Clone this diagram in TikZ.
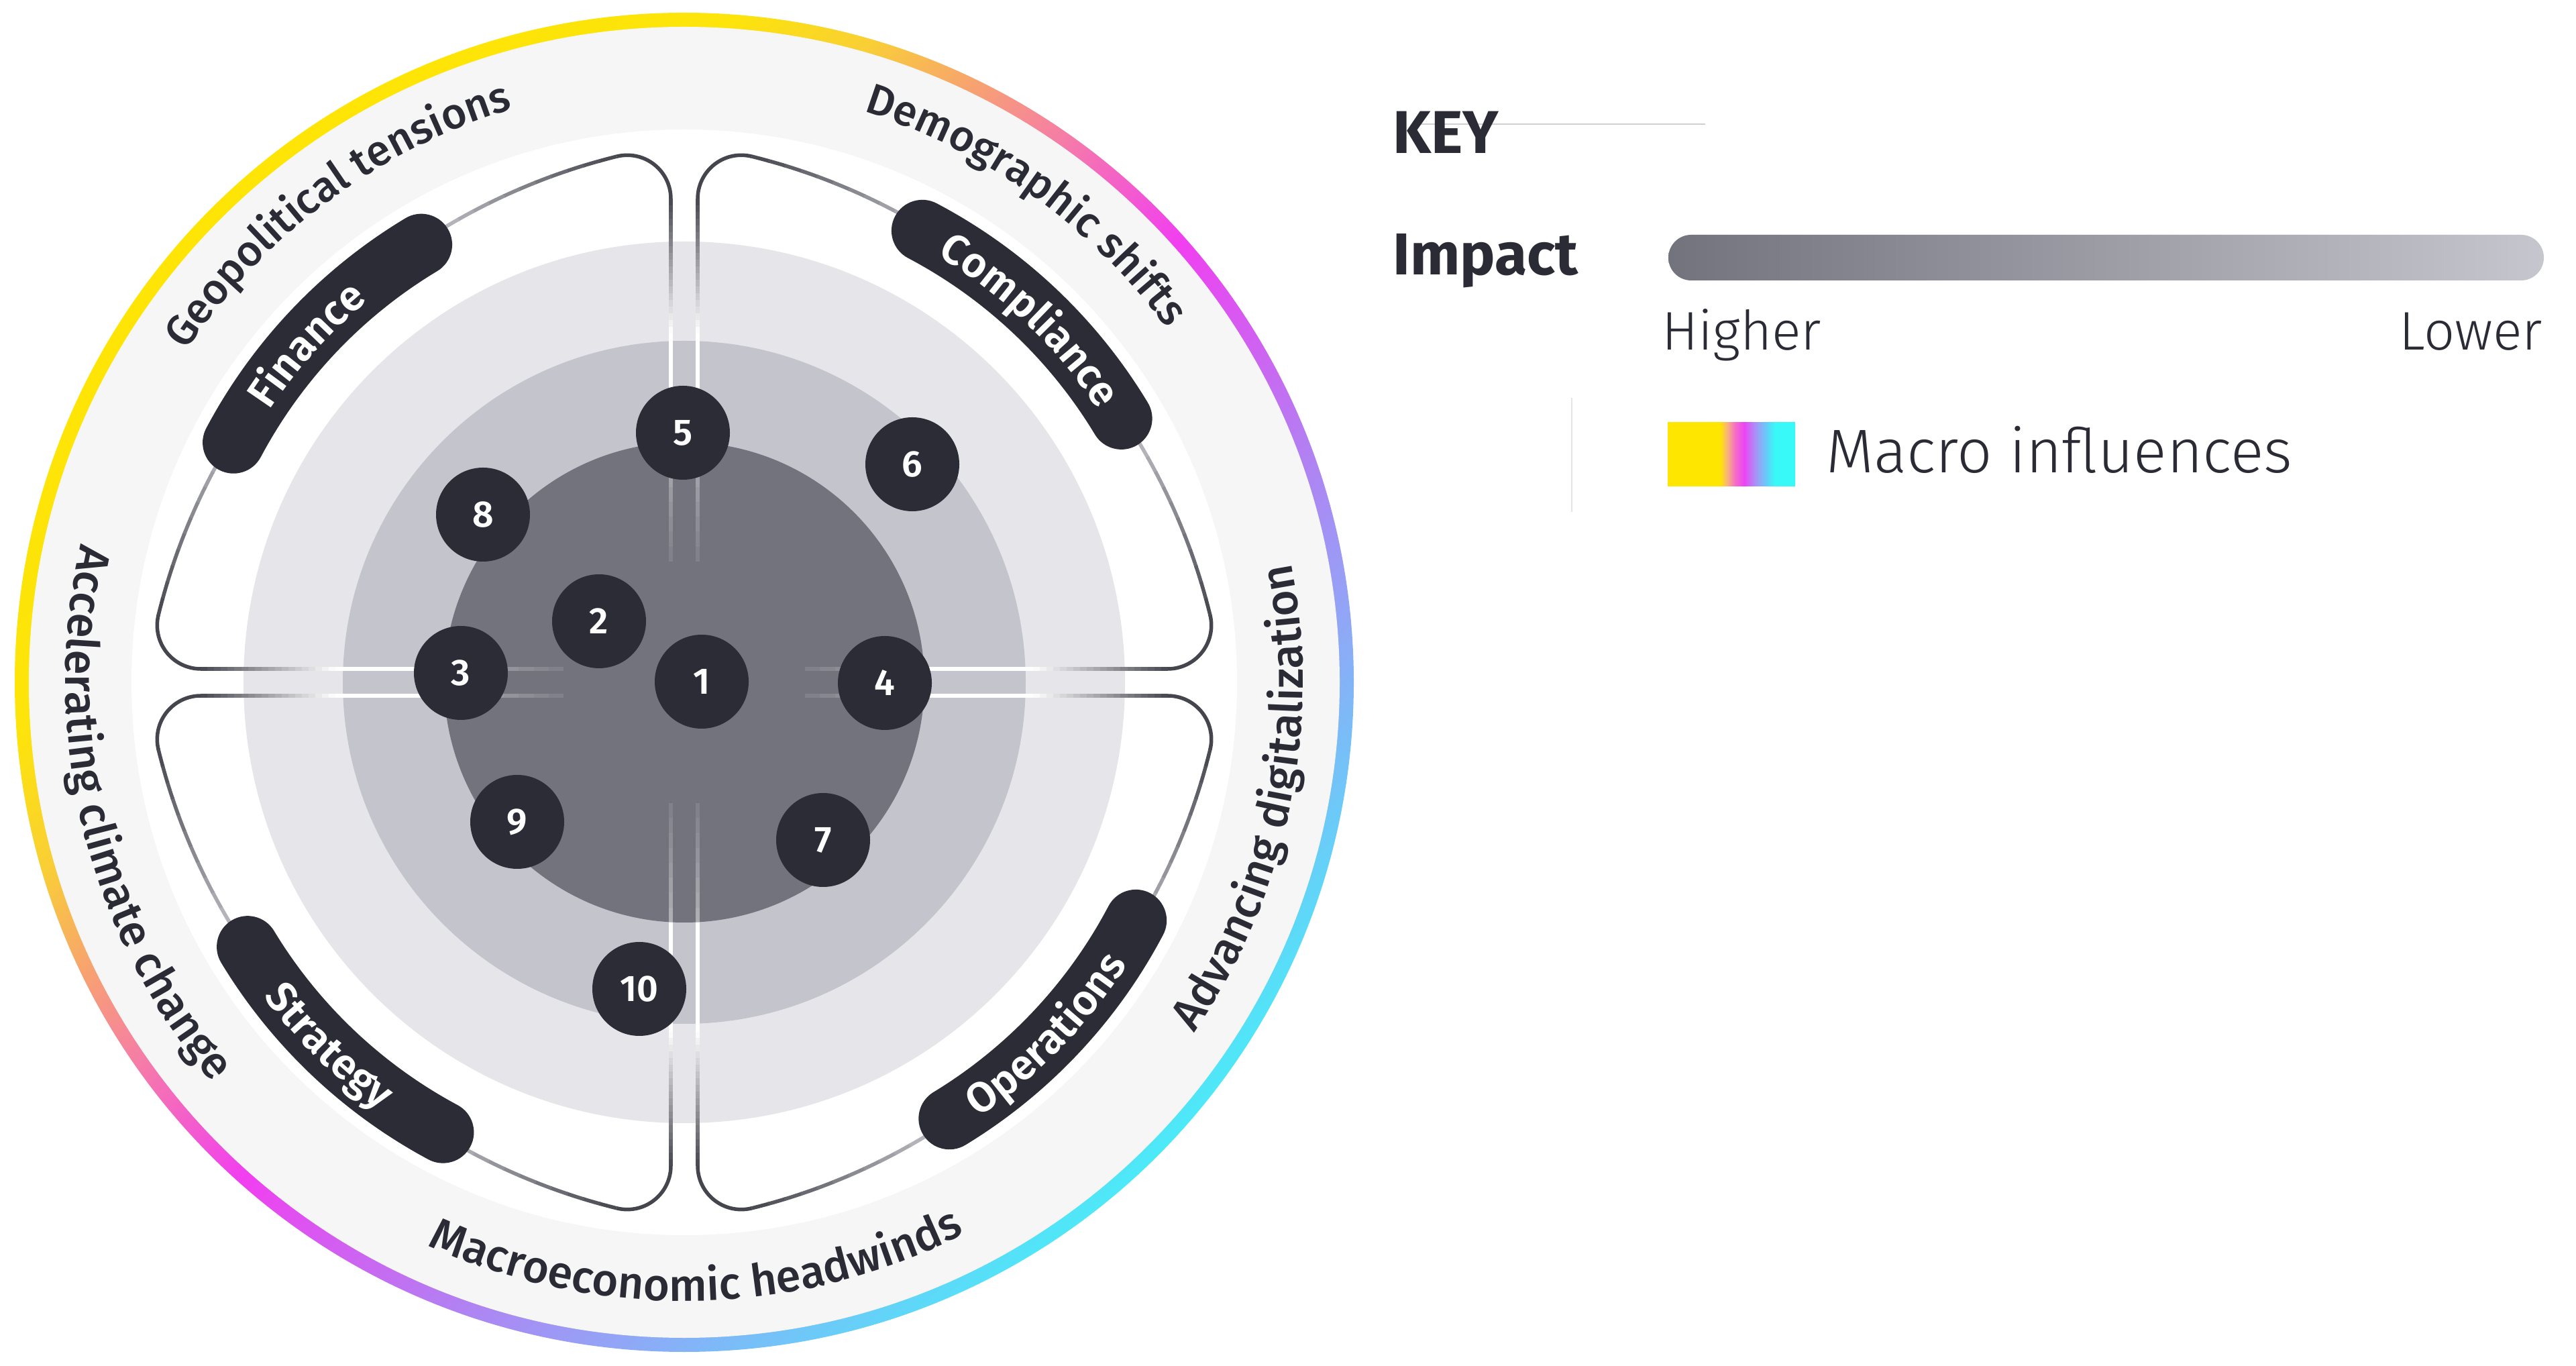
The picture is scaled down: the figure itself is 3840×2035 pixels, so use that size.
\documentclass[tikz,border=0pt]{standalone}
\usepackage{fontspec}
\setmainfont{Fira Sans}
\newfontfamily\fLight{Fira Sans Light}
\newfontfamily\fMed{Fira Sans Medium}
\newfontfamily\fSemi{Fira Sans SemiBold}
\usetikzlibrary{decorations.text}

\definecolor{txt}{HTML}{2B2B36}
\definecolor{pill}{HTML}{2C2C37}
\definecolor{bandgray}{HTML}{F6F6F6}
\definecolor{discA}{HTML}{E6E6EA}
\definecolor{discB}{HTML}{C4C4CC}
\definecolor{discC}{HTML}{73737E}
\definecolor{oldark}{HTML}{45454E}
\definecolor{ollight}{HTML}{B8B8BD}
\definecolor{keyline}{HTML}{D0D0D4}
\definecolor{vline}{HTML}{E4E4E6}
\definecolor{ringA}{HTML}{FFE600}
\definecolor{ringB}{HTML}{FDE40A}
\definecolor{ringC}{HTML}{F9CF35}
\definecolor{ringD}{HTML}{F7A271}
\definecolor{ringE}{HTML}{F57BA9}
\definecolor{ringF}{HTML}{F13FF0}
\definecolor{ringG}{HTML}{B57DF2}
\definecolor{ringH}{HTML}{92A5F6}
\definecolor{ringI}{HTML}{70C6F8}
\definecolor{ringJ}{HTML}{48EEF8}
\definecolor{ringK}{HTML}{40F0F8}
\definecolor{swA}{HTML}{FFE600}
\definecolor{swB}{HTML}{F8B080}
\definecolor{swC}{HTML}{F56CC8}
\definecolor{swD}{HTML}{EC44F4}
\definecolor{swE}{HTML}{A694F6}
\definecolor{swF}{HTML}{60D0F8}
\definecolor{swG}{HTML}{38F8F8}
\definecolor{barL}{HTML}{73737E}
\definecolor{barR}{HTML}{C6C6CE}

\pgfdeclarehorizontalshading{ringshade}{100bp}{color(0bp)=(ringA); color(25bp)=(ringA); color(38.5bp)=(ringB); color(41.5bp)=(ringC); color(44.25bp)=(ringD); color(47bp)=(ringE); color(51bp)=(ringF); color(57bp)=(ringG); color(61bp)=(ringH); color(64.25bp)=(ringI); color(68bp)=(ringJ); color(75bp)=(ringK); color(100bp)=(ringK)}
\pgfdeclarehorizontalshading{swatchshade}{100bp}{color(0bp)=(swA); color(45.5bp)=(swA); color(48.5bp)=(swB); color(51.5bp)=(swC); color(55bp)=(swD); color(59.5bp)=(swE); color(64bp)=(swF); color(67bp)=(swG); color(100bp)=(swG)}
\pgfdeclarehorizontalshading{barshade}{100bp}{color(0bp)=(barL); color(25bp)=(barL); color(75bp)=(barR); color(100bp)=(barR)}

% one quadrant outline (top-right orientation, origin = centre)
\newcommand{\quadoutline}{%
  \foreach \olI in {0,...,7}{%
    \pgfmathsetmacro{\olA}{180+\olI*22.25}%
    \pgfmathsetmacro{\olB}{\olA+22.25}%
    \pgfmathsetmacro{\olO}{0.10+\olI*0.045}%
    \draw[white, line width=5.5, opacity=\olO] (20,\olA) -- (20,\olB) (\olA,20) -- (\olB,20);
  }%
  \draw[white, line width=5.5] (20,358) -- (20,521) (358,20) -- (521,20);
  \foreach \olI in {0,...,19}{%
    \pgfmathsetmacro{\olA}{520+\olI*10.035}%
    \pgfmathsetmacro{\olB}{\olA+10.6}%
    \pgfmathtruncatemacro{\olP}{(\olI+0.5)*5}%
    \draw[color=oldark!\olP!white, line width=5.5] (20,\olA) -- (20,\olB) (\olA,20) -- (\olB,20);
  }%
  \draw[oldark, line width=5.5] (20,720.7) arc[start angle=180, end angle=76.1, radius=65];
  \draw[oldark, line width=5.5] (720.7,20) arc[start angle=-90, end angle=13.9, radius=65];
  \foreach \olI in {0,...,39}{%
    \pgfmathsetmacro{\olA}{76.15-\olI*1.5575}%
    \pgfmathsetmacro{\olB}{\olA-1.65}%
    \pgfmathtruncatemacro{\olP}{max(0,min(100,(abs(\olA-0.78-45)/31.15-0.45)/0.55*100))}%
    \draw[color=oldark!\olP!ollight, line width=5.5] ([shift={(-123,-123)}]\olA:934) arc[start angle=\olA, end angle=\olB, radius=934];
  }%
}

\tikzset{
  badge/.style={circle, fill=pill, minimum size=140, inner sep=0, text=white, font=\fSemi\fontsize{55}{55}\selectfont},
  pillarc/.style={draw=pill, line width=92, line cap=round},
  keytext/.style={inner sep=0, text=txt},
}

\begin{document}
\begin{tikzpicture}[x=1pt,y=1pt]
\useasboundingbox (0,0) rectangle (3840,2035);
\fill[white] (0,0) rectangle (3840,2035);

% gradient ring
\begin{scope}
  \clip (1020,1018) circle (998);
  \begin{scope}[transform canvas={rotate around={-45:(1020,1018)}}]
    \shade[shading=ringshade] (-391.4,-393.4) rectangle (2431.4,2429.4);
  \end{scope}
\end{scope}

\begin{scope}[shift={(1020,1018)}]
  \fill[bandgray] (0,0) circle (977);
  \fill[white] (0,0) circle (824);
  \fill[discA] (0,0) circle (657);
  \fill[discB] (0,0) circle (509);
  \fill[discC] (0,0) circle (358);

  % quadrant outlines
  \quadoutline
  \begin{scope}[xscale=-1]\quadoutline\end{scope}
  \begin{scope}[yscale=-1]\quadoutline\end{scope}
  \begin{scope}[scale=-1]\quadoutline\end{scope}

  % pills
  \draw[pillarc] (121:761) arc[start angle=121, end angle=152, radius=761];
  \draw[pillarc] (31.1:761) arc[start angle=31.1, end angle=62.2, radius=761];
  \draw[pillarc] (211.2:761) arc[start angle=211.2, end angle=241.8, radius=761];
  \draw[pillarc] (-58.7:761) arc[start angle=-58.7, end angle=-27.8, radius=761];

  % pill labels
  \path[decorate, decoration={text along path, text align=center, text color=white,
      text={|\fSemi\fontsize{63}{63}\selectfont|Finance}}]
      (160:739) arc[start angle=160, end angle=116.4, radius=739];
  \path[decorate, decoration={text along path, text align=center, text color=white,
      text={|\fSemi\fontsize{63}{63}\selectfont|Compliance}}]
      (70:739) arc[start angle=70, end angle=22.7, radius=739];
  \path[decorate, decoration={text along path, text align=center, text color=white,
      text={|\fSemi\fontsize{63}{63}\selectfont|Strategy}}]
      (203.7:783) arc[start angle=203.7, end angle=247.7, radius=783];
  \path[decorate, decoration={text along path, text align=center, text color=white,
      text={|\fSemi\fontsize{63}{63}\selectfont|Operations}}]
      (-66.2:783) arc[start angle=-66.2, end angle=-22.2, radius=783];

  % outer labels (macro influences)
  \path[decorate, decoration={text along path, text align=center, text color=txt,
      text={|\fMed\fontsize{64}{64}\selectfont|Geopolitical tensions}}]
      (170:892) arc[start angle=170, end angle=83, radius=892];
  \path[decorate, decoration={text along path, text align=center, text color=txt,
      text={|\fMed\fontsize{64}{64}\selectfont|Demographic shifts}}]
      (98:892) arc[start angle=98, end angle=10.8, radius=892];
  \path[decorate, decoration={text along path, text align=center, text color=txt,
      text={|\fMed\fontsize{67}{67}\selectfont|Advancing digitalization}}]
      (-55:922) arc[start angle=-55, end angle=31.6, radius=922];
  \path[decorate, decoration={text along path, text align=center, text color=txt,
      text={|\fMed\fontsize{67}{67}\selectfont|Macroeconomic headwinds}}]
      (-132:922) arc[start angle=-132, end angle=-45.6, radius=922];
  \path[decorate, decoration={text along path, text align=center, text color=txt,
      text={|\fMed\fontsize{67}{67}\selectfont|Accelerating climate change}}]
      (150:922) arc[start angle=150, end angle=237.4, radius=922];

  % numbered badges
  \node[badge] (b1) at (26,1) {1};
  \node[badge] (b2) at (-127,91) {2};
  \node[badge] (b3) at (-333,14) {3};
  \node[badge] (b4) at (299,-1) {4};
  \node[badge] (b5) at (-2,372) {5};
  \node[badge] (b6) at (340,325) {6};
  \node[badge] (b7) at (207,-235) {7};
  \node[badge] (b8) at (-300,250) {8};
  \node[badge] (b9) at (-249,-208) {9};
  \node[badge] (b10) at (-67,-457) {10};
\end{scope}

% key
\draw[keyline, line width=2] (2111,1850) -- (2542,1850);
\node[keytext, anchor=base west, font=\bfseries\fontsize{90}{90}\selectfont] (key) at (2076,1806) {KEY};
\node[keytext, anchor=base west, font=\bfseries\fontsize{88}{88}\selectfont] (impact) at (2076,1625) {Impact};
\shade[shading=barshade, rounded corners=34] (2487,1617) rectangle (3792,1685);
\node[keytext, anchor=base west, font=\fLight\fontsize{81}{81}\selectfont] (higher) at (2477,1513) {Higher};
\node[keytext, anchor=base east, font=\fLight\fontsize{81}{81}\selectfont] (lower) at (3790,1513) {Lower};
\draw[vline, line width=2] (2343,1442) -- (2343,1272);
\shade[shading=swatchshade] (2486,1310) rectangle (2676,1405);
\node[keytext, anchor=base west, font=\fLight\fontsize{92}{92}\selectfont] (macro) at (2722,1330) {Macro influences};
\end{tikzpicture}
\end{document}
